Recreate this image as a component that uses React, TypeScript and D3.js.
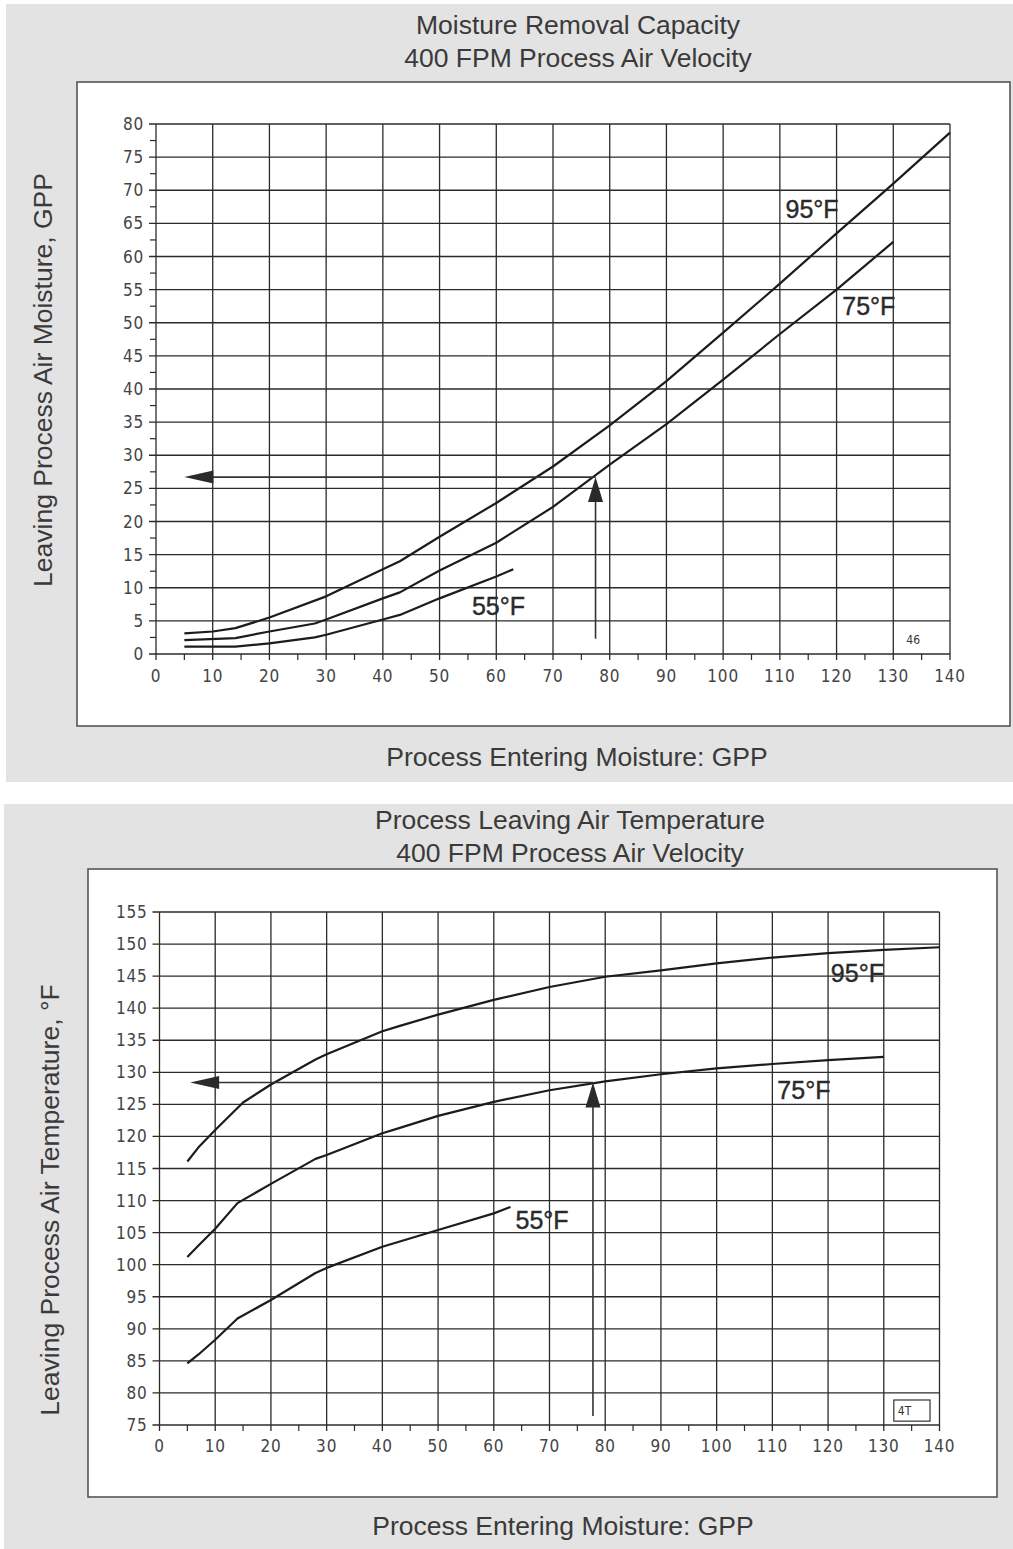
import React from "react";
import * as d3 from "d3";

// ---------- data ----------
const xTickValues = [0, 10, 20, 30, 40, 50, 60, 70, 80, 90, 100, 110, 120, 130, 140];
const xMinorTicks = [5, 15, 25, 35, 45, 55, 65, 75, 85, 95, 105, 115, 125, 135];

const moistYTicks = [0, 5, 10, 15, 20, 25, 30, 35, 40, 45, 50, 55, 60, 65, 70, 75, 80];
const moistYMinor = [2.5, 7.5, 12.5, 17.5, 22.5, 27.5, 32.5, 37.5, 42.5, 47.5, 52.5, 57.5, 62.5, 67.5, 72.5, 77.5];
const tempYTicks = [75, 80, 85, 90, 95, 100, 105, 110, 115, 120, 125, 130, 135, 140, 145, 150, 155];

// Moisture removal capacity (leaving moisture, GPP)
const moist95X = [5, 10, 14, 20, 30, 40, 43, 50, 60, 70, 80, 90, 100, 110, 120, 130, 140];
const moist95Y = [3.1, 3.4, 3.9, 5.5, 8.7, 12.8, 14.0, 17.7, 22.8, 28.3, 34.5, 41.2, 48.5, 55.9, 63.5, 71.0, 78.7];
const moist75X = [5, 14, 20, 28, 30, 40, 43, 50, 60, 70, 80, 90, 100, 110, 120, 130];
const moist75Y = [2.1, 2.4, 3.4, 4.6, 5.2, 8.4, 9.3, 12.6, 16.8, 22.2, 28.6, 34.7, 41.4, 48.3, 55.0, 62.2];
const moist55X = [5, 14, 20, 28, 30, 40, 43, 50, 60, 63];
const moist55Y = [1.1, 1.1, 1.6, 2.5, 2.9, 5.2, 5.9, 8.4, 11.7, 12.8];

// Leaving air temperature (°F)
const temp95X = [5, 7, 10, 15, 20, 28, 30, 40, 43, 50, 60, 70, 80, 90, 100, 110, 120, 130, 140];
const temp95Y = [116.1, 118.3, 121.0, 125.3, 128.1, 132.0, 132.8, 136.4, 137.2, 139.0, 141.3, 143.3, 144.9, 145.9, 147.0, 147.9, 148.6, 149.1, 149.5];
const temp75X = [5, 7, 10, 14, 20, 28, 30, 40, 43, 50, 60, 70, 80, 90, 100, 110, 120, 130];
const temp75Y = [101.2, 103.0, 105.6, 109.6, 112.6, 116.5, 117.1, 120.5, 121.3, 123.2, 125.4, 127.2, 128.6, 129.7, 130.6, 131.3, 131.9, 132.4];
const temp55X = [5, 7, 10, 14, 20, 28, 30, 40, 50, 60, 63];
const temp55Y = [84.6, 86.0, 88.3, 91.6, 94.5, 98.7, 99.5, 102.8, 105.4, 108.0, 109.0];

const seriesNames = ["95°F", "75°F", "55°F"];
// label anchor positions (data units, left x / middle y)
const moistLabelX = [111, 121, 55.7];
const moistLabelY = [67.2, 52.6, 7.2];
const tempLabelX = [120.5, 110.9, 63.9];
const tempLabelY = [145.5, 127.2, 107.0];

// example-reading arrows: [entering GPP, start of vertical, reading value, left tip]
const moistArrow = [77.5, 2.3, 26.7, 5];
const tempArrow = [77.8, 76.4, 128.4, 5.5];

const moistTitle = ["Moisture Removal Capacity", "400 FPM Process Air Velocity"];
const tempTitle = ["Process Leaving Air Temperature", "400 FPM Process Air Velocity"];
const xAxisTitle = "Process Entering Moisture: GPP";
const moistYTitle = "Leaving Process Air Moisture, GPP";
const tempYTitle = "Leaving Process Air Temperature, °F";
const moistCode = "46";
const tempCode = "4T";
const codePos = [132.3, 2.3];
const tempCodeBox = [131.8, 138.3, 75.6, 78.9];

const TICK_FONT = "'Liberation Sans Narrow', 'DejaVu Sans Condensed', 'Liberation Sans', Arial, sans-serif";
const TEXT_FONT = "'Liberation Sans', Arial, Helvetica, sans-serif";

type Series = { xs: number[]; ys: number[] };

function Chart(props: {
  bg: [number, number, number, number];
  panel: [number, number, number, number];
  plot: [number, number, number, number]; // left, right, top, bottom px
  yDomain: [number, number];
  yTicks: number[];
  yMinor: number[];
  series: Series[];
  labelX: number[];
  labelY: number[];
  arrow: number[];
  titles: string[];
  titleCx: number;
  titleY: [number, number];
  xTitleCx: number;
  xTitleY: number;
  yTitle: string;
  yTitleX: number;
  yTitleCy: number;
  code: string;
  codeBox: number[] | null;
  xLabelY: number;
}) {
  const [l, r, t, b] = props.plot;
  const x = d3.scaleLinear().domain([0, 140]).range([l, r]);
  const y = d3.scaleLinear().domain(props.yDomain).range([b, t]);
  const line = d3
    .line<[number, number]>()
    .x((d) => x(d[0]))
    .y((d) => y(d[1]))
    .curve(d3.curveLinear);
  const grid = "#2b2b2b";
  const [ax, ay0, ay1, atip] = props.arrow;
  const hx = x(atip);
  const headLen = 29;
  const vHead = 25;
  return (
    <g>
      <rect x={props.bg[0]} y={props.bg[1]} width={props.bg[2]} height={props.bg[3]} fill="#e3e3e3" />
      <rect
        x={props.panel[0]}
        y={props.panel[1]}
        width={props.panel[2]}
        height={props.panel[3]}
        fill="#ffffff"
        stroke="#555"
        strokeWidth={1.6}
      />
      {props.titles.map((s, i) => (
        <text key={i} x={props.titleCx} y={props.titleY[i]} textAnchor="middle" fontFamily={TEXT_FONT} fontSize={26.5} fill="#3a3a3a">
          {s}
        </text>
      ))}
      <text x={props.xTitleCx} y={props.xTitleY} textAnchor="middle" fontFamily={TEXT_FONT} fontSize={26.5} fill="#3a3a3a">
        {xAxisTitle}
      </text>
      <text
        transform={`translate(${props.yTitleX},${props.yTitleCy}) rotate(-90)`}
        textAnchor="middle"
        fontFamily={TEXT_FONT}
        fontSize={26.5}
        fill="#3a3a3a"
      >
        {props.yTitle}
      </text>
      {/* horizontal grid */}
      {props.yTicks.map((v) => (
        <line key={"h" + v} x1={x(0) - 7} x2={x(140)} y1={y(v)} y2={y(v)} stroke={grid} strokeWidth={1.3} />
      ))}
      {props.yMinor.map((v) => (
        <line key={"hm" + v} x1={x(0) - 6} x2={x(0)} y1={y(v)} y2={y(v)} stroke={grid} strokeWidth={1.2} />
      ))}
      {/* vertical grid */}
      {xTickValues.map((v) => (
        <line key={"v" + v} x1={x(v)} x2={x(v)} y1={y(props.yDomain[1])} y2={y(props.yDomain[0]) + 6} stroke={grid} strokeWidth={1.3} />
      ))}
      {xMinorTicks.map((v) => (
        <line key={"vm" + v} x1={x(v)} x2={x(v)} y1={y(props.yDomain[0])} y2={y(props.yDomain[0]) + 6} stroke={grid} strokeWidth={1.2} />
      ))}
      {/* tick labels */}
      {props.yTicks.map((v) => (
        <text key={"yl" + v} x={x(0) - 12} y={y(v) + 6} textAnchor="end" fontFamily={TICK_FONT} fontSize={17} fill="#444" letterSpacing={0.8}>
          {v}
        </text>
      ))}
      {xTickValues.map((v) => (
        <text key={"xl" + v} x={x(v)} y={props.xLabelY} textAnchor="middle" fontFamily={TICK_FONT} fontSize={17} fill="#444" letterSpacing={0.8}>
          {v}
        </text>
      ))}
      {/* curves */}
      {props.series.map((s, i) => (
        <path
          key={"s" + i}
          d={line(s.xs.map((xv, j) => [xv, s.ys[j]] as [number, number])) || ""}
          fill="none"
          stroke="#1c1c1c"
          strokeWidth={2.2}
          strokeLinejoin="round"
        />
      ))}
      {seriesNames.map((n, i) => (
        <text key={"lab" + i} x={x(props.labelX[i])} y={y(props.labelY[i]) + 9} fontFamily={TEXT_FONT} fontSize={25} fill="#2a2a2a" stroke="#2a2a2a" strokeWidth={0.4}>
          {n}
        </text>
      ))}
      {/* arrows */}
      <line x1={x(ax)} x2={hx + headLen - 2} y1={y(ay1)} y2={y(ay1)} stroke="#333" strokeWidth={1.6} />
      <path d={`M${hx},${y(ay1)} L${hx + headLen},${y(ay1) - 6.5} L${hx + headLen},${y(ay1) + 6.5} Z`} fill="#2a2a2a" />
      <line x1={x(ax)} x2={x(ax)} y1={y(ay0)} y2={y(ay1) + vHead - 2} stroke="#333" strokeWidth={1.6} />
      <path d={`M${x(ax)},${y(ay1)} L${x(ax) - 7.5},${y(ay1) + vHead} L${x(ax) + 7.5},${y(ay1) + vHead} Z`} fill="#2a2a2a" />
      {/* code */}
      {props.codeBox ? (
        <g>
          <rect
            x={x(props.codeBox[0])}
            y={y(props.codeBox[3])}
            width={x(props.codeBox[1]) - x(props.codeBox[0])}
            height={y(props.codeBox[2]) - y(props.codeBox[3])}
            fill="none"
            stroke="#333"
            strokeWidth={1.2}
          />
          <text x={x(props.codeBox[0]) + 4} y={y(props.codeBox[2]) - 6} fontFamily={TICK_FONT} fontSize={12} fill="#333">
            {props.code}
          </text>
        </g>
      ) : (
        <text x={x(codePos[0])} y={y(codePos[1]) + 5} fontFamily={TICK_FONT} fontSize={12} fill="#333">
          {props.code}
        </text>
      )}
    </g>
  );
}

export default function App() {
  const moistSeries: Series[] = [
    { xs: moist95X, ys: moist95Y },
    { xs: moist75X, ys: moist75Y },
    { xs: moist55X, ys: moist55Y },
  ];
  const tempSeries: Series[] = [
    { xs: temp95X, ys: temp95Y },
    { xs: temp75X, ys: temp75Y },
    { xs: temp55X, ys: temp55Y },
  ];
  return (
    <svg
      width={1013}
      height={1549}
      style={{ position: "absolute", left: 0, top: 0, background: "#ffffff" }}
    >
      <Chart
        bg={[6, 4, 1007, 778]}
        panel={[77, 82, 933, 644]}
        plot={[156, 950, 124, 654]}
        yDomain={[0, 80]}
        yTicks={moistYTicks}
        yMinor={moistYMinor}
        series={moistSeries}
        labelX={moistLabelX}
        labelY={moistLabelY}
        arrow={moistArrow}
        titles={moistTitle}
        titleCx={578}
        titleY={[34, 67]}
        xTitleCx={577}
        xTitleY={766}
        yTitle={moistYTitle}
        yTitleX={52}
        yTitleCy={380}
        code={moistCode}
        codeBox={null}
        xLabelY={682}
      />
      <Chart
        bg={[4, 804, 1009, 745]}
        panel={[88, 869, 909, 628]}
        plot={[159.5, 939.5, 912, 1425]}
        yDomain={[75, 155]}
        yTicks={tempYTicks}
        yMinor={[]}
        series={tempSeries}
        labelX={tempLabelX}
        labelY={tempLabelY}
        arrow={tempArrow}
        titles={tempTitle}
        titleCx={570}
        titleY={[829, 862]}
        xTitleCx={563}
        xTitleY={1535}
        yTitle={tempYTitle}
        yTitleX={59}
        yTitleCy={1200}
        code={tempCode}
        codeBox={tempCodeBox}
        xLabelY={1452}
      />
    </svg>
  );
}
